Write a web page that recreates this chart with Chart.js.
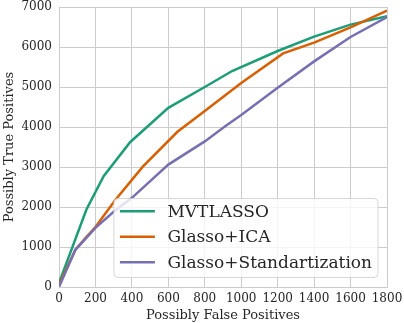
<!DOCTYPE html>
<html>
<head>
<meta charset="utf-8">
<script src="https://cdn.jsdelivr.net/npm/chart.js@4.4.0/dist/chart.umd.min.js"></script>
<style>
  html, body { margin: 0; padding: 0; background: #ffffff; }
  #wrap { width: 404px; height: 323px; }
</style>
</head>
<body>
<div id="wrap"><canvas id="roc"></canvas></div>
<script>
// values
const seriesNames = ['MVTLASSO', 'Glasso+ICA', 'Glasso+Standartization'];
const seriesColors = ['#1b9e77', '#d95f02', '#7570b3'];

const mvFalse = [0, 150, 245, 390, 600, 800, 950, 1200, 1400, 1600, 1800];
const mvTrue  = [100, 1930, 2770, 3620, 4480, 5000, 5400, 5900, 6260, 6560, 6770];

const icaFalse = [0, 90, 150, 200, 310, 460, 650, 800, 1000, 1230, 1400, 1600, 1800];
const icaTrue  = [50, 930, 1250, 1500, 2180, 3010, 3880, 4400, 5100, 5840, 6110, 6490, 6910];

const stdFalse = [0, 90, 200, 300, 400, 600, 800, 910, 1000, 1200, 1400, 1600, 1800];
const stdTrue  = [0, 930, 1480, 1880, 2230, 3060, 3640, 4010, 4300, 4980, 5640, 6250, 6750];

const xTicks = [0, 200, 400, 600, 800, 1000, 1200, 1400, 1600, 1800];
const yTicks = [0, 1000, 2000, 3000, 4000, 5000, 6000, 7000];

function toPoints(xs, ys) {
  return xs.map((x, i) => ({ x: x, y: ys[i] }));
}

const FONT = "'DejaVu Serif', 'Liberation Serif', serif";
const TEXT = '#262626';
const GRID = '#cccccc';

// legend drawn inside the plot, lower right, like the matplotlib one
const insideLegend = {
  id: 'insideLegend',
  afterDraw(chart) {
    const ctx = chart.ctx;
    const area = chart.chartArea;
    const sets = chart.data.datasets;
    ctx.save();
    ctx.font = '17px ' + FONT;
    let textW = 0;
    sets.forEach(ds => { textW = Math.max(textW, ctx.measureText(ds.label).width); });

    const pad = 6, lineLen = 35, gap = 12.5, rowH = 25.5;
    const boxW = pad + lineLen + gap + textW + pad;
    const boxH = 79;
    const right = area.right - 9;
    const bottom = area.bottom - 9.5;
    const left = right - boxW;
    const top = bottom - boxH;

    ctx.beginPath();
    ctx.roundRect(left, top, boxW, boxH, 4);
    ctx.fillStyle = 'rgba(255,255,255,0.8)';
    ctx.fill();
    ctx.strokeStyle = 'rgba(204,204,204,0.8)';
    ctx.lineWidth = 1;
    ctx.stroke();

    sets.forEach((ds, i) => {
      const cy = top + 12.7 + i * rowH;
      ctx.beginPath();
      ctx.moveTo(left + pad, cy);
      ctx.lineTo(left + pad + lineLen, cy);
      ctx.strokeStyle = ds.borderColor;
      ctx.lineWidth = 2.5;
      ctx.stroke();
      ctx.fillStyle = TEXT;
      ctx.textBaseline = 'middle';
      ctx.textAlign = 'left';
      ctx.fillText(ds.label, left + pad + lineLen + gap, cy + 1);
    });
    ctx.restore();
  }
};

const ctx = document.getElementById('roc').getContext('2d');
new Chart(ctx, {
  type: 'line',
  data: {
    datasets: [
      { label: seriesNames[0], data: toPoints(mvFalse, mvTrue), borderColor: seriesColors[0], order: 3 },
      { label: seriesNames[1], data: toPoints(icaFalse, icaTrue), borderColor: seriesColors[1], order: 2 },
      { label: seriesNames[2], data: toPoints(stdFalse, stdTrue), borderColor: seriesColors[2], order: 1 }
    ].map(ds => Object.assign(ds, {
      backgroundColor: ds.borderColor,
      borderWidth: 2.5,
      pointRadius: 0,
      tension: 0,
      fill: false
    }))
  },
  options: {
    responsive: true,
    maintainAspectRatio: false,
    animation: false,
    layout: { padding: { left: 0, right: 17, top: 7, bottom: 0 } },
    plugins: {
      legend: { display: false },
      tooltip: { enabled: false }
    },
    scales: {
      x: {
        type: 'linear',
        min: 0,
        max: 1800,
        afterFit(scale) {
          scale.height = 36;
          scale.paddingLeft = 0;
          scale.paddingRight = 0;
        },
        afterBuildTicks(scale) { scale.ticks = xTicks.map(v => ({ value: v })); },
        ticks: {
          color: TEXT,
          padding: 5,
          maxRotation: 0,
          autoSkip: false,
          callback: v => String(v),
          font: { family: FONT, size: 12 }
        },
        grid: { color: GRID, lineWidth: 1, drawTicks: false },
        border: { color: GRID, width: 1 },
        title: {
          display: true,
          text: 'Possibly False Positives',
          color: TEXT,
          padding: { top: 0, bottom: 0 },
          font: { family: FONT, size: 13 }
        }
      },
      y: {
        type: 'linear',
        min: 0,
        max: 7000,
        afterFit(scale) {
          scale.width = 59;
          scale.paddingTop = 0;
          scale.paddingBottom = 0;
        },
        afterBuildTicks(scale) { scale.ticks = yTicks.map(v => ({ value: v })); },
        ticks: {
          color: TEXT,
          padding: 7,
          autoSkip: false,
          callback: v => String(v),
          font: { family: FONT, size: 12 }
        },
        grid: { color: GRID, lineWidth: 1, drawTicks: false },
        border: { color: GRID, width: 1 },
        title: {
          display: true,
          text: 'Possibly True Positives',
          color: TEXT,
          padding: { top: 2, bottom: 0 },
          font: { family: FONT, size: 13 }
        }
      }
    }
  },
  plugins: [insideLegend]
});
</script>
</body>
</html>
